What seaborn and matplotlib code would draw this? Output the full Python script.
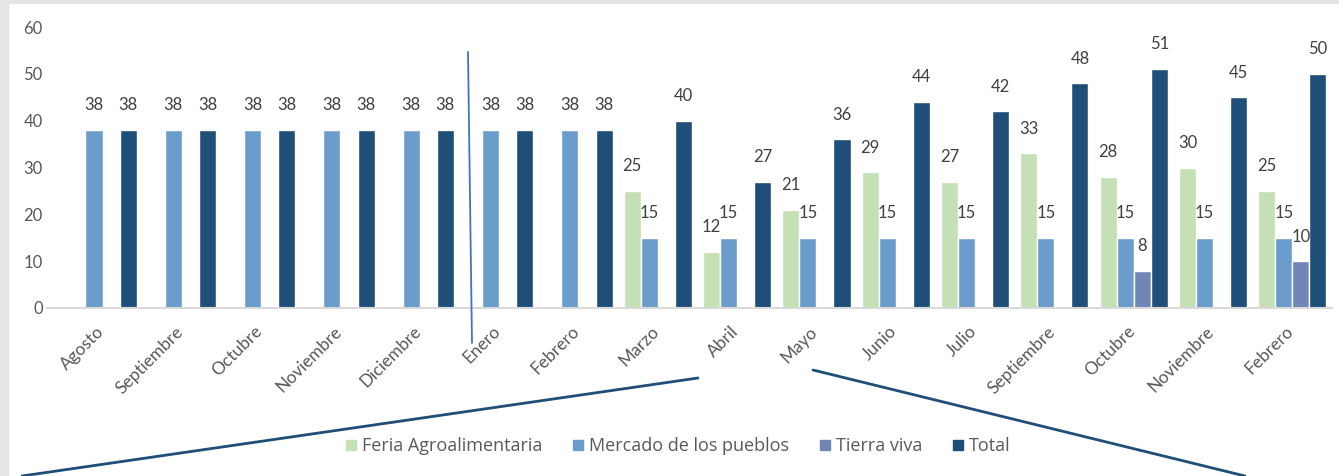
import numpy as np
import pandas as pd
import seaborn as sns
import matplotlib.pyplot as plt
import matplotlib.transforms as mtransforms
from matplotlib.lines import Line2D

# Datos
meses = ["Agosto", "Septiembre", "Octubre", "Noviembre", "Diciembre", "Enero",
         "Febrero", "Marzo", "Abril", "Mayo", "Junio", "Julio", "Septiembre",
         "Octubre", "Noviembre", "Febrero"]
nan = np.nan
feria = [nan, nan, nan, nan, nan, nan, nan, 25, 12, 21, 29, 27, 33, 28, 30, 25]
mercado = [38, 38, 38, 38, 38, 38, 38, 15, 15, 15, 15, 15, 15, 15, 15, 15]
tierra = [nan, nan, nan, nan, nan, nan, nan, nan, nan, nan, nan, nan, nan, 8, nan, 10]
total = [38, 38, 38, 38, 38, 38, 38, 40, 27, 36, 44, 42, 48, 51, 45, 50]

series = ["Feria Agroalimentaria", "Mercado de los pueblos", "Tierra viva", "Total"]
colores = ["#C5E0B4", "#6A9DCB", "#6F86B6", "#1F4E79"]

filas = []
for nombre, valores in zip(series, [feria, mercado, tierra, total]):
    for i, v in enumerate(valores):
        filas.append({"periodo": i, "serie": nombre, "valor": v})
df = pd.DataFrame(filas).dropna()

sns.set_theme(style="white")
plt.rcParams["font.family"] = ["Lato", "DejaVu Sans"]

W, H = 1339, 476
fig = plt.figure(figsize=(W / 100, H / 100), dpi=100)
fig.patch.set_facecolor("white")
ax = fig.add_axes([47 / W, 1 - 308 / H, (1332 - 47) / W, (308 - 27) / H])

sns.barplot(data=df, x="periodo", y="valor", hue="serie", hue_order=series,
            order=list(range(len(meses))), palette=colores, width=0.86,
            saturation=1, ax=ax, legend=True)

for cont in ax.containers:
    ax.bar_label(cont, padding=12, fontsize=12, color="#404040")

ax.set_xlim(-0.7, len(meses) - 0.5)
ax.set_ylim(0, 60)
ax.set_yticks(range(0, 61, 10))
ax.set_xticks(range(len(meses)))
ax.set_xticklabels(meses, rotation=45, ha="right", rotation_mode="anchor")
ax.tick_params(axis="x", length=0, pad=11, labelsize=12.5, labelcolor="#595959")
ax.tick_params(axis="y", length=0, pad=3, labelsize=12, labelcolor="#595959")
desplazar = mtransforms.ScaledTranslation(-7 / 100, 0, fig.dpi_scale_trans)
for lab in ax.get_xticklabels():
    lab.set_transform(lab.get_transform() + desplazar)
ax.set_xlabel("")
ax.set_ylabel("")
for s in ["top", "right", "left"]:
    ax.spines[s].set_visible(False)
ax.spines["bottom"].set_color("#D9D9D9")
ax.spines["bottom"].set_linewidth(1.5)

ax.get_legend().remove()
handles = [Line2D([], [], marker="s", linestyle="", markersize=7,
                  markerfacecolor=c, markeredgecolor=c) for c in colores]
fig.legend(handles, series, loc="center", bbox_to_anchor=(0.505, 1 - 446 / H),
           ncol=4, frameon=False, handletextpad=0.1, handlelength=1.0,
           columnspacing=1.5, labelcolor="#595959",
           prop={"family": ["Open Sans", "DejaVu Sans"], "size": 13})

# marco gris del area del grafico
fig.add_artist(plt.Rectangle((0, 0), 8 / W, 1, transform=fig.transFigure,
                             color="#E5E5E5", zorder=-1))
fig.add_artist(plt.Rectangle((0, 1 - 3 / H), 1, 3 / H, transform=fig.transFigure,
                             color="#E5E5E5", zorder=-1))

# lineas dibujadas encima del grafico
def linea(p1, p2, color, lw):
    fig.add_artist(Line2D([p1[0] / W, p2[0] / W], [1 - p1[1] / H, 1 - p2[1] / H],
                          transform=fig.transFigure, color=color, lw=lw))

linea((468, 52), (472, 343), "#4472C4", 1.3)
linea((698, 378), (22, 476), "#1F4E79", 2)
linea((813, 370), (1245, 476), "#1F4E79", 2)

fig.savefig("out.png", dpi=100)
